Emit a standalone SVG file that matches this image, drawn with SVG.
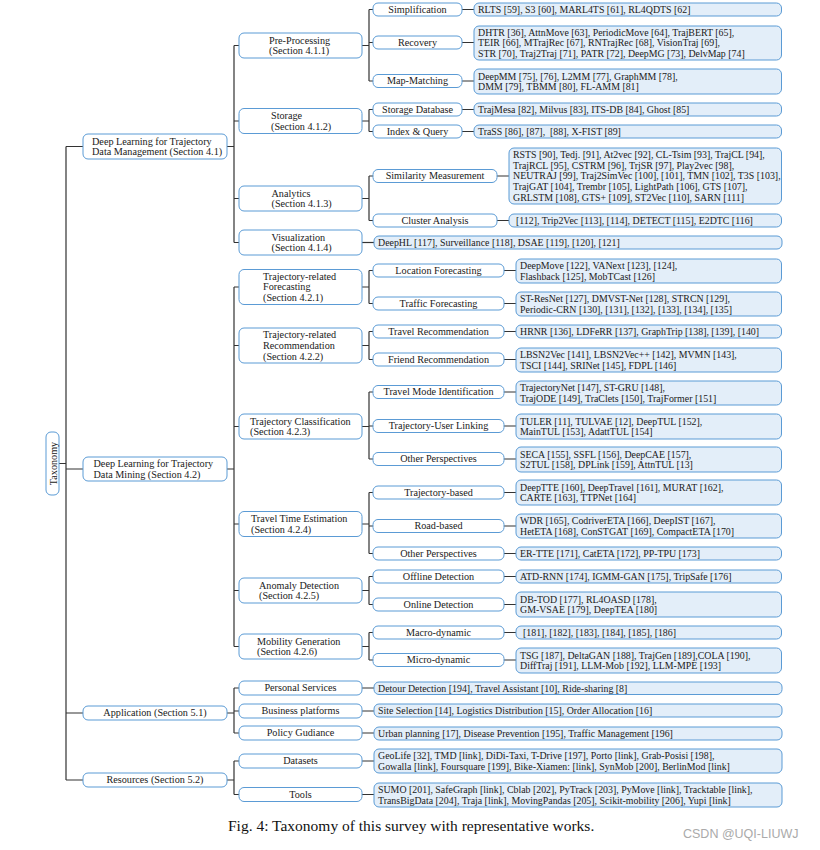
<svg xmlns="http://www.w3.org/2000/svg" width="820" height="850" viewBox="0 0 820 850">
<style>
.n{fill:#fff;stroke:#5b9bd5;stroke-width:1}
.l{fill:#e3eef9;stroke:#5b9bd5;stroke-width:1}
text{font-family:"Liberation Serif","Times New Roman",serif;font-size:10.2px;fill:#1a1a1a}
.t{font-size:9.9px}
.m{text-anchor:middle}
.e{stroke:#333;stroke-width:1.2;fill:none}
.cap{font-size:15.5px;fill:#111}
.wm{font-family:"Liberation Sans",Arial,sans-serif;font-size:12.5px;fill:#aaa}
</style>
<rect width="820" height="850" fill="#fff"/>
<g id="connectors" class="e">
<path d="M59 463.5H66M66 146.5V780M66 146.5H83M66 469H83M66 713H83M66 780H83"/>
<path d="M227 146.5H234M234 45.5V242.5M234 45.5H239M234 121H239M234 198.5H239M234 242.5H239"/>
<path d="M227 469H234M234 287V646.5M234 287H239M234 345.5H239M234 426.5H239M234 524H239M234 590.5H239M234 646.5H239"/>
<path d="M227 713H234M234 688V733M234 688H239M234 711H239M234 733H239"/>
<path d="M227 780H234M234 761V794.5M234 761H239M234 794.5H239"/>
<path d="M362 45.5H369M369 9.5V81M369 9.5H373M369 42.5H373M369 81H373"/>
<path d="M362 121H369M369 109.5V131.5M369 109.5H373M369 131.5H373"/>
<path d="M362 198.5H369M369 176V220.5M369 176H373M369 220.5H373"/>
<path d="M362 242.5H374"/>
<path d="M362 287H369M369 270.5V303.5M369 270.5H373M369 303.5H373"/>
<path d="M362 345.5H369M369 331.5V359.5M369 331.5H373M369 359.5H373"/>
<path d="M362 426.5H369M369 392V459M369 392H373M369 426H373M369 459H373"/>
<path d="M362 524H369M369 492.5V553.5M369 492.5H373M369 526H373M369 553.5H373"/>
<path d="M362 590.5H369M369 576.5V604.5M369 576.5H373M369 604.5H373"/>
<path d="M362 646.5H369M369 632.5V660M369 632.5H373M369 660H373"/>
<path d="M362 688H374M362 711H374M362 733H374M362 761H374M362 794.5H374"/>
<path d="M462 9.5H474M462 42.5H474M462 81H474M462 109.5H474M462 131.5H474"/>
<path d="M497 176H509M497 220.5H509"/>
<path d="M504 270.5H516M504 303.5H516M504 331.5H516M504 359.5H516M504 392H516M504 426H516M504 459H516M504 492.5H516M504 526H516M504 553.5H516M504 576.5H516M504 604.5H516M504 632.5H516M504 660H516"/>
</g>

<g id="taxonomy"><rect class="n" x="46" y="432" width="13" height="63" rx="5"/><text class="m" transform="translate(56.5,463.5) rotate(-90)">Taxonomy</text></g>

<g id="dl-management"><rect class="n" x="83" y="134" width="144" height="25" rx="5"/><text x="92" y="144.6">Deep Learning for Trajectory</text><text x="92" y="155.2">Data Management (Section 4.1)</text></g>
<g id="dl-mining"><rect class="n" x="83" y="457" width="144" height="24" rx="5"/><text x="93.5" y="467.1">Deep Learning for Trajectory</text><text x="93.5" y="477.7">Data Mining (Section 4.2)</text></g>
<g id="application"><rect class="n" x="83" y="706" width="144" height="14" rx="5"/><text class="m" x="155" y="716.4">Application (Section 5.1)</text></g>
<g id="resources"><rect class="n" x="83" y="773" width="144" height="14" rx="5"/><text class="m" x="155" y="783.4">Resources (Section 5.2)</text></g>

<g id="pre-processing"><rect class="n" x="239" y="33" width="123" height="25" rx="5"/><text x="269" y="43.6">Pre-Processing</text><text x="269" y="54.2">(Section 4.1.1)</text></g>
<g id="storage"><rect class="n" x="239" y="108.5" width="123" height="25" rx="5"/><text x="271" y="119">Storage</text><text x="271" y="129.6">(Section 4.1.2)</text></g>
<g id="analytics"><rect class="n" x="239" y="186" width="123" height="25" rx="5"/><text x="271.5" y="196.6">Analytics</text><text x="271.5" y="207.2">(Section 4.1.3)</text></g>
<g id="visualization"><rect class="n" x="239" y="230" width="123" height="25" rx="5"/><text x="271.5" y="240.6">Visualization</text><text x="271.5" y="251.2">(Section 4.1.4)</text></g>
<g id="forecasting"><rect class="n" x="239" y="269.5" width="123" height="35" rx="5"/><text x="263" y="279.8">Trajectory-related</text><text x="263" y="290.4">Forecasting</text><text x="263" y="301">(Section 4.2.1)</text></g>
<g id="recommendation"><rect class="n" x="239" y="328" width="123" height="35" rx="5"/><text x="263" y="338.3">Trajectory-related</text><text x="263" y="348.9">Recommendation</text><text x="263" y="359.5">(Section 4.2.2)</text></g>
<g id="classification"><rect class="n" x="239" y="414" width="123" height="25" rx="5"/><text x="250" y="424.6">Trajectory Classification</text><text x="250" y="435.2">(Section 4.2.3)</text></g>
<g id="tte"><rect class="n" x="239" y="511.5" width="123" height="25" rx="5"/><text x="251" y="522.1">Travel Time Estimation</text><text x="251" y="532.7">(Section 4.2.4)</text></g>
<g id="anomaly"><rect class="n" x="239" y="578" width="123" height="25" rx="5"/><text x="259" y="588.6">Anomaly Detection</text><text x="259" y="599.2">(Section 4.2.5)</text></g>
<g id="mobility"><rect class="n" x="239" y="634" width="123" height="25" rx="5"/><text x="257" y="644.6">Mobility Generation</text><text x="257" y="655.2">(Section 4.2.6)</text></g>
<g id="personal"><rect class="n" x="239" y="681" width="123" height="14" rx="5"/><text class="m" x="300.5" y="691.4">Personal Services</text></g>
<g id="business"><rect class="n" x="239" y="704" width="123" height="14" rx="5"/><text class="m" x="300.5" y="714.4">Business platforms</text></g>
<g id="policy"><rect class="n" x="239" y="726" width="123" height="14" rx="5"/><text class="m" x="300.5" y="736.4">Policy Gudiance</text></g>
<g id="datasets"><rect class="n" x="239" y="754" width="123" height="14" rx="5"/><text class="m" x="300.5" y="764.4">Datasets</text></g>
<g id="tools"><rect class="n" x="239" y="787.5" width="123" height="14" rx="5"/><text class="m" x="300.5" y="797.9">Tools</text></g>

<g id="simplification"><rect class="n" x="373" y="3" width="89" height="13" rx="5"/><text class="m" x="417.5" y="12.9">Simplification</text></g>
<g id="recovery"><rect class="n" x="373" y="36" width="89" height="13" rx="5"/><text class="m" x="417.5" y="45.9">Recovery</text></g>
<g id="map-matching"><rect class="n" x="373" y="74.5" width="89" height="13" rx="5"/><text class="m" x="417.5" y="84.4">Map-Matching</text></g>
<g id="storage-db"><rect class="n" x="373" y="103" width="89" height="13" rx="5"/><text class="m" x="417.5" y="112.9">Storage Database</text></g>
<g id="index-query"><rect class="n" x="373" y="125" width="89" height="13" rx="5"/><text class="m" x="417.5" y="134.9">Index &amp; Query</text></g>
<g id="similarity"><rect class="n" x="373" y="169.5" width="124" height="13" rx="5"/><text class="m" x="435" y="179.4">Similarity Measurement</text></g>
<g id="cluster"><rect class="n" x="373" y="214" width="124" height="13" rx="5"/><text class="m" x="435" y="223.9">Cluster Analysis</text></g>
<g id="location-fc"><rect class="n" x="373" y="264" width="131" height="13" rx="5"/><text class="m" x="438.5" y="273.9">Location Forecasting</text></g>
<g id="traffic-fc"><rect class="n" x="373" y="297" width="131" height="13" rx="5"/><text class="m" x="438.5" y="306.9">Traffic Forecasting</text></g>
<g id="travel-rec"><rect class="n" x="373" y="325" width="131" height="13" rx="5"/><text class="m" x="438.5" y="334.9">Travel Recommendation</text></g>
<g id="friend-rec"><rect class="n" x="373" y="353" width="131" height="13" rx="5"/><text class="m" x="438.5" y="362.9">Friend Recommendation</text></g>
<g id="travel-mode"><rect class="n" x="373" y="385.5" width="131" height="13" rx="5"/><text class="m" x="438.5" y="395.4">Travel Mode Identification</text></g>
<g id="tul"><rect class="n" x="373" y="419.5" width="131" height="13" rx="5"/><text class="m" x="438.5" y="429.4">Trajectory-User Linking</text></g>
<g id="other-cls"><rect class="n" x="373" y="452.5" width="131" height="13" rx="5"/><text class="m" x="438.5" y="462.4">Other Perspectives</text></g>
<g id="traj-based"><rect class="n" x="373" y="486" width="131" height="13" rx="5"/><text class="m" x="438.5" y="495.9">Trajectory-based</text></g>
<g id="road-based"><rect class="n" x="373" y="519.5" width="131" height="13" rx="5"/><text class="m" x="438.5" y="529.4">Road-based</text></g>
<g id="other-tte"><rect class="n" x="373" y="547" width="131" height="13" rx="5"/><text class="m" x="438.5" y="556.9">Other Perspectives</text></g>
<g id="offline"><rect class="n" x="373" y="570" width="131" height="13" rx="5"/><text class="m" x="438.5" y="579.9">Offline Detection</text></g>
<g id="online"><rect class="n" x="373" y="598" width="131" height="13" rx="5"/><text class="m" x="438.5" y="607.9">Online Detection</text></g>
<g id="macro"><rect class="n" x="373" y="626" width="131" height="13" rx="5"/><text class="m" x="438.5" y="635.9">Macro-dynamic</text></g>
<g id="micro"><rect class="n" x="373" y="653.5" width="131" height="13" rx="5"/><text class="m" x="438.5" y="663.4">Micro-dynamic</text></g>

<g id="leaf-simplification"><rect class="l" x="474" y="3" width="307.5" height="13" rx="5"/><text class="t" x="478" y="12.9">RLTS [59], S3 [60], MARL4TS [61], RL4QDTS [62]</text></g>
<g id="leaf-recovery"><rect class="l" x="474" y="26" width="307.5" height="34" rx="5"/><text class="t" x="478" y="35.5">DHTR [36], AttnMove [63], PeriodicMove [64], TrajBERT [65],</text><text class="t" x="478" y="46.4">TEIR [66], MTrajRec [67], RNTrajRec [68], VisionTraj [69],</text><text class="t" x="478" y="57.3">STR [70], Traj2Traj [71], PATR [72], DeepMG [73], DelvMap [74]</text></g>
<g id="leaf-map-matching"><rect class="l" x="474" y="69" width="307.5" height="25" rx="5"/><text class="t" x="478" y="79.5">DeepMM [75], [76], L2MM [77], GraphMM [78],</text><text class="t" x="478" y="90.3">DMM [79], TBMM [80], FL-AMM [81]</text></g>
<g id="leaf-storage-db"><rect class="l" x="474" y="103" width="307.5" height="13" rx="5"/><text class="t" x="478" y="112.9">TrajMesa [82], Milvus [83], ITS-DB [84], Ghost [85]</text></g>
<g id="leaf-index"><rect class="l" x="474" y="125" width="307.5" height="13" rx="5"/><text class="t" x="478" y="134.9" xml:space="preserve">TraSS [86], [87],  [88], X-FIST [89]</text></g>
<g id="leaf-similarity"><rect class="l" x="509" y="148" width="272.5" height="56" rx="5"/><text class="t" x="513" y="157.6">RSTS [90], Tedj. [91], At2vec [92], CL-Tsim [93], TrajCL [94],</text><text class="t" x="513" y="168.5">TrajRCL [95], CSTRM [96], TrjSR [97], Play2vec [98],</text><text class="t" x="513" y="179.4">NEUTRAJ [99], Traj2SimVec [100], [101], TMN [102], T3S [103],</text><text class="t" x="513" y="190.3">TrajGAT [104], Trembr [105], LightPath [106], GTS [107],</text><text class="t" x="513" y="201.2">GRLSTM [108], GTS+ [109], ST2Vec [110], SARN [111]</text></g>
<g id="leaf-cluster"><rect class="l" x="509" y="214" width="272.5" height="13" rx="5"/><text class="t" x="516" y="223.9">[112], Trip2Vec [113], [114], DETECT [115], E2DTC [116]</text></g>
<g id="leaf-visualization"><rect class="l" x="374" y="236" width="408" height="13" rx="5"/><text class="t" x="378" y="245.9">DeepHL [117], Surveillance [118], DSAE [119], [120], [121]</text></g>
<g id="leaf-location"><rect class="l" x="516" y="259" width="265.5" height="24" rx="5"/><text class="t" x="520" y="269">DeepMove [122], VANext [123], [124],</text><text class="t" x="520" y="279.8">Flashback [125], MobTCast [126]</text></g>
<g id="leaf-traffic"><rect class="l" x="516" y="292" width="265.5" height="24" rx="5"/><text class="t" x="520" y="302">ST-ResNet [127], DMVST-Net [128], STRCN [129],</text><text class="t" x="520" y="312.8">Periodic-CRN [130], [131], [132], [133], [134], [135]</text></g>
<g id="leaf-travel-rec"><rect class="l" x="516" y="325" width="265.5" height="13" rx="5"/><text class="t" x="520" y="334.9">HRNR [136], LDFeRR [137], GraphTrip [138], [139], [140]</text></g>
<g id="leaf-friend-rec"><rect class="l" x="516" y="348" width="265.5" height="24" rx="5"/><text class="t" x="520" y="358">LBSN2Vec [141], LBSN2Vec++ [142], MVMN [143],</text><text class="t" x="520" y="368.8">TSCI [144], SRINet [145], FDPL [146]</text></g>
<g id="leaf-travel-mode"><rect class="l" x="516" y="381" width="265.5" height="24" rx="5"/><text class="t" x="520" y="391">TrajectoryNet [147], ST-GRU [148],</text><text class="t" x="520" y="401.8">TrajODE [149], TraClets [150], TrajFormer [151]</text></g>
<g id="leaf-tul"><rect class="l" x="516" y="414" width="265.5" height="25" rx="5"/><text class="t" x="520" y="424.5">TULER [11], TULVAE [12], DeepTUL [152],</text><text class="t" x="520" y="435.3">MainTUL [153], AdattTUL [154]</text></g>
<g id="leaf-other-cls"><rect class="l" x="516" y="447" width="265.5" height="25" rx="5"/><text class="t" x="520" y="457.5">SECA [155], SSFL [156], DeepCAE [157],</text><text class="t" x="520" y="468.3">S2TUL [158], DPLink [159], AttnTUL [13]</text></g>
<g id="leaf-traj-based"><rect class="l" x="516" y="480" width="265.5" height="25" rx="5"/><text class="t" x="520" y="490.5">DeepTTE [160], DeepTravel [161], MURAT [162],</text><text class="t" x="520" y="501.3">CARTE [163], TTPNet [164]</text></g>
<g id="leaf-road-based"><rect class="l" x="516" y="514" width="265.5" height="24" rx="5"/><text class="t" x="520" y="524">WDR [165], CodriverETA [166], DeepIST [167],</text><text class="t" x="520" y="534.8">HetETA [168], ConSTGAT [169], CompactETA [170]</text></g>
<g id="leaf-other-tte"><rect class="l" x="516" y="547" width="265.5" height="13" rx="5"/><text class="t" x="520" y="556.9">ER-TTE [171], CatETA [172], PP-TPU [173]</text></g>
<g id="leaf-offline"><rect class="l" x="516" y="570" width="265.5" height="13" rx="5"/><text class="t" x="520" y="579.9">ATD-RNN [174], IGMM-GAN [175], TripSafe [176]</text></g>
<g id="leaf-online"><rect class="l" x="516" y="592" width="265.5" height="25" rx="5"/><text class="t" x="520" y="602.5">DB-TOD [177], RL4OASD [178],</text><text class="t" x="520" y="613.3">GM-VSAE [179], DeepTEA [180]</text></g>
<g id="leaf-macro"><rect class="l" x="516" y="626" width="265.5" height="13" rx="5"/><text class="t" x="523" y="635.9">[181], [182], [183], [184], [185], [186]</text></g>
<g id="leaf-micro"><rect class="l" x="516" y="648" width="265.5" height="25" rx="5"/><text class="t" x="520" y="658.5">TSG [187], DeltaGAN [188], TrajGen [189],COLA [190],</text><text class="t" x="520" y="669.3">DiffTraj [191], LLM-Mob [192], LLM-MPE [193]</text></g>
<g id="leaf-personal"><rect class="l" x="374" y="682" width="408" height="12.5" rx="5"/><text class="t" x="378" y="691.6">Detour Detection [194], Travel Assistant [10], Ride-sharing [8]</text></g>
<g id="leaf-business"><rect class="l" x="374" y="704" width="408" height="13" rx="5"/><text class="t" x="378" y="713.9">Site Selection [14], Logistics Distribution [15], Order Allocation [16]</text></g>
<g id="leaf-policy"><rect class="l" x="374" y="727" width="408" height="13" rx="5"/><text class="t" x="378" y="736.9">Urban planning [17], Disease Prevention [195], Traffic Management [196]</text></g>
<g id="leaf-datasets"><rect class="l" x="374" y="749" width="408" height="24" rx="5"/><text class="t" x="378" y="759">GeoLife [32], TMD [link], DiDi-Taxi, T-Drive [197], Porto [link], Grab-Posisi [198],</text><text class="t" x="378" y="769.8">Gowalla [link], Foursquare [199], Bike-Xiamen: [link], SynMob [200], BerlinMod [link]</text></g>
<g id="leaf-tools"><rect class="l" x="374" y="783" width="408" height="24" rx="5"/><text class="t" x="378" y="793">SUMO [201], SafeGraph [link], Cblab [202], PyTrack [203], PyMove [link], Tracktable [link],</text><text class="t" x="378" y="803.8">TransBigData [204], Traja [link], MovingPandas [205], Scikit-mobility [206], Yupi [link]</text></g>

<text class="cap" x="228" y="831">Fig. 4: Taxonomy of this survey with representative works.</text>
<text class="wm" x="683" y="838">CSDN @UQI-LIUWJ</text>
</svg>
